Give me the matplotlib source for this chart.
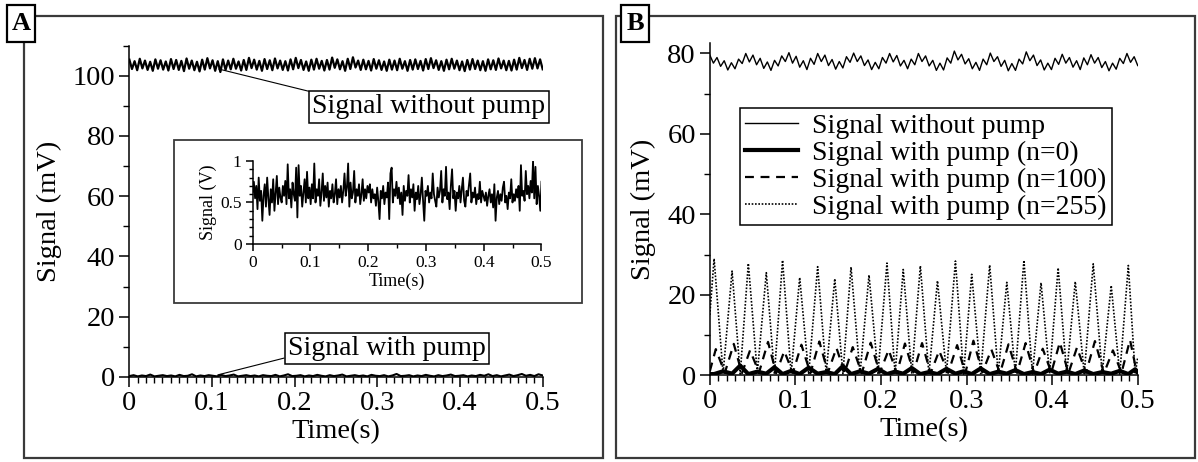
import matplotlib
matplotlib.use("Agg")
import matplotlib.pyplot as plt
import numpy as np
from matplotlib.patches import Rectangle
from matplotlib.ticker import MultipleLocator

plt.rcParams['font.family'] = ['Liberation Serif', 'DejaVu Serif']
plt.rcParams['mathtext.fontset'] = 'stix'

# ---------------- data ----------------
# panel A, signal without pump: alternating crests / dips (mV)
a_nopump_hi = [105.3, 104.8, 105.6, 105.0, 104.6, 105.4, 105.1, 104.7, 105.5, 105.2,
               104.9, 105.7, 105.0, 104.6, 105.3, 105.8, 105.1, 104.8, 105.4, 105.0,
               105.6, 104.7, 105.2, 105.9, 105.3, 104.9, 105.5, 105.1, 105.7, 105.0,
               104.8, 105.4, 105.9, 105.2, 104.7, 105.3, 105.6, 104.9, 105.2, 106.0,
               105.4, 104.8, 105.6, 106.1, 105.0, 105.3, 104.9, 105.5, 105.1, 104.7,
               105.3, 105.0, 105.6, 104.8, 105.2, 105.4, 104.9, 105.5, 105.8, 105.1,
               104.8, 105.3, 105.6, 105.0, 104.7, 105.2, 105.5, 105.0, 104.8, 105.4,
               105.1, 105.7, 105.0, 104.9, 105.3, 105.9, 105.2, 105.6, 105.8, 105.4]
a_nopump_lo = [102.2, 101.8, 102.4, 101.9, 101.6, 102.3, 102.0, 101.7, 102.2, 101.9,
               101.5, 102.3, 101.8, 101.4, 102.0, 102.4, 101.6, 101.2, 101.9, 102.1,
               102.3, 101.7, 101.9, 102.5, 102.0, 101.6, 102.2, 101.8, 102.4, 101.9,
               101.7, 102.1, 102.5, 101.9, 101.6, 102.0, 102.3, 101.7, 102.0, 102.6,
               102.1, 101.6, 102.2, 102.7, 101.9, 102.1, 101.7, 102.3, 101.9, 101.6,
               102.0, 101.8, 102.3, 101.6, 102.0, 102.2, 101.7, 102.2, 102.5, 101.9,
               101.6, 102.1, 102.3, 101.8, 101.5, 102.0, 102.2, 101.8, 101.6, 102.1,
               101.9, 102.4, 101.8, 101.7, 102.0, 102.5, 101.9, 102.3, 102.4, 102.1]
# panel A, signal with pump (mV)
a_pump = [0.3, 0.6, 0.2, 0.5, 0.3, 0.8, 0.2, 0.4, 0.6, 0.3, 0.5, 0.2, 0.7, 0.3, 0.4,
          0.9, 0.2, 0.5, 0.3, 0.6, 0.4, 0.2, 0.7, 0.3, 0.5, 0.8, 0.2, 0.4, 0.6, 0.3,
          0.5, 0.2, 0.6, 0.4, 0.3, 0.7, 0.2, 0.5, 0.9, 0.3, 0.4, 0.6, 0.2, 0.5, 0.3,
          0.7, 0.4, 0.2, 0.6, 0.3, 0.5, 0.8, 0.2, 0.4, 0.6, 0.3, 0.5, 0.2, 0.7, 0.4,
          0.3, 0.6, 0.2, 0.5, 1.0, 0.3, 0.4, 0.6, 0.2, 0.5, 0.3, 0.7, 0.4, 0.2, 0.6,
          0.3, 0.5, 0.8, 0.3, 0.4, 0.6, 0.2, 0.5, 0.3, 0.7, 0.4, 0.9, 0.3, 0.6, 0.2,
          0.5, 0.8, 0.3, 0.6, 1.0, 0.4, 0.7, 0.3, 0.9, 0.5]
# inset: signal with pump in volts
inset_v = [0.62, 0.75, 0.55, 0.70, 0.42, 0.80, 0.52, 0.64, 0.28, 0.58, 0.72, 0.45,
           0.80, 0.55, 0.35, 0.66, 0.50, 0.78, 0.40, 0.62, 0.82, 0.48, 0.68, 0.56,
           0.50, 0.70, 0.58, 0.76, 0.48, 0.96, 0.55, 0.66, 0.44, 0.74, 0.60, 0.52,
           0.92, 0.32, 0.95, 0.58, 0.70, 0.45, 0.62, 0.78, 0.50, 0.87, 0.55, 0.68,
           0.48, 0.72, 0.55, 0.97, 0.50, 0.66, 0.58, 0.78, 0.46, 0.62, 0.85, 0.52,
           0.70, 0.56, 0.74, 0.45, 0.64, 0.55, 0.72, 0.50, 0.60, 0.78, 0.48, 0.66,
           0.56, 0.70, 0.50, 0.64, 0.85, 0.58, 0.68, 0.97, 0.45, 0.74, 0.55, 0.62,
           0.88, 0.50, 0.66, 0.58, 0.72, 0.48, 0.60, 0.78, 0.52, 0.66, 0.55, 0.70,
           0.62, 0.72, 0.50, 0.66, 0.55, 0.60, 0.46, 0.68, 0.52, 0.30, 0.64, 0.55,
           0.70, 0.48, 0.62, 0.56, 0.74, 0.30, 0.85, 0.92, 0.50, 0.66, 0.58, 0.75,
           0.55, 0.68, 0.48, 0.62, 0.35, 0.70, 0.52, 0.64, 0.58, 0.83, 0.50, 0.66,
           0.56, 0.72, 0.40, 0.62, 0.54, 0.70, 0.48, 0.60, 0.80, 0.52, 0.28, 0.64,
           0.58, 0.70, 0.50, 0.62, 0.55, 0.85, 0.60, 0.52, 0.45, 0.68, 0.56, 0.64,
           0.88, 0.50, 0.66, 0.58, 0.93, 0.54, 0.62, 0.42, 0.70, 0.90, 0.55, 0.64,
           0.40, 0.62, 0.55, 0.70, 0.50, 0.66, 0.80, 0.52, 0.45, 0.64, 0.58, 0.72,
           0.85, 0.50, 0.62, 0.56, 0.68, 0.48, 0.60, 0.54, 0.75, 0.50, 0.64, 0.58,
           0.52, 0.62, 0.46, 0.58, 0.66, 0.50, 0.60, 0.44, 0.72, 0.28, 0.56, 0.64,
           0.48, 0.60, 0.52, 0.68, 0.75, 0.50, 0.58, 0.42, 0.62, 0.55, 0.78, 0.50,
           0.60, 0.52, 0.66, 0.56, 0.70, 0.40, 0.95, 0.58, 0.64, 0.52, 0.88, 0.60,
           0.70, 0.55, 0.76, 0.62, 1.00, 0.55, 0.93, 0.48, 0.70, 0.58, 0.40, 0.75]

# panel B, signal without pump: alternating crests / dips (mV)
b_nopump_hi = [79.6, 79.0, 78.2, 77.7, 78.6, 80.0, 79.6, 78.8, 77.9, 78.3,
               79.4, 80.2, 79.3, 78.2, 78.8, 80.0, 79.6, 78.5, 78.0, 79.2,
               80.1, 79.4, 78.4, 77.8, 79.0, 80.0, 79.5, 78.3, 78.6, 80.0,
               79.4, 78.3, 77.6, 78.9, 80.6, 79.8, 78.7, 77.8, 78.6, 80.1,
               79.2, 78.3, 77.5, 78.6, 80.4, 79.6, 78.4, 77.6, 78.8, 79.8,
               79.0, 78.2, 78.9, 79.7, 79.0, 78.0, 77.6, 78.8, 80.0, 79.2]
b_nopump_lo = [77.6, 76.8, 75.9, 76.2, 77.5, 77.9, 77.2, 76.3, 75.8, 76.9,
               78.0, 77.6, 76.6, 76.0, 77.3, 78.0, 77.0, 76.1, 76.4, 77.8,
               78.0, 77.0, 76.0, 76.2, 77.6, 77.9, 76.9, 76.2, 77.2, 78.0,
               76.9, 75.8, 75.9, 77.6, 78.4, 77.4, 76.2, 75.8, 77.2, 78.0,
               76.8, 75.7, 75.8, 77.4, 78.2, 77.0, 75.9, 76.0, 77.3, 77.6,
               76.6, 76.0, 77.2, 77.6, 76.5, 75.7, 76.1, 77.5, 77.8, 77.0]

# panel B, pumped signals: pulse crests and the dips between them
pulse_peak_t = [0.005, 0.026, 0.045, 0.066, 0.085, 0.105, 0.126, 0.146, 0.165, 0.186,
                0.207, 0.226, 0.246, 0.266, 0.287, 0.306, 0.327, 0.347, 0.367, 0.387,
                0.407, 0.427, 0.448, 0.469, 0.489]
pulse_dip_t = [0.0155, 0.0355, 0.0555, 0.0755, 0.095, 0.1155, 0.136, 0.1555, 0.1755,
               0.1965, 0.2165, 0.236, 0.256, 0.2765, 0.2965, 0.3165, 0.337, 0.357,
               0.377, 0.397, 0.417, 0.4375, 0.4585, 0.479, 0.497]
n255_peak = [29.0, 25.9, 27.8, 25.5, 28.6, 24.3, 27.0, 24.0, 26.9, 24.9, 27.9, 26.3, 27.2,
             23.5, 28.4, 25.1, 27.4, 23.1, 28.6, 23.0, 26.7, 23.3, 27.7, 22.3, 27.3]
n255_dip = [0.4, 0.3, 0.5, 0.3, 0.4, 0.3, 0.5, 0.4, 0.3, 0.5, 0.3, 0.4, 0.3,
            0.5, 0.3, 0.4, 0.3, 0.5, 0.3, 0.4, 0.3, 0.4, 0.5, 0.3, 0.3]
n255_start, n255_end = 15.0, 4.5
n100_peak = [6.5, 7.8, 6.2, 8.3, 6.0, 7.6, 8.4, 6.8, 7.0, 8.1, 6.3, 7.9, 8.0,
             6.1, 7.5, 8.6, 6.4, 7.7, 8.0, 6.6, 8.2, 6.9, 8.5, 6.2, 8.8]
n100_dip = [0.6, 0.5, 0.7, 0.5, 0.6, 0.5, 0.7, 0.6, 0.5, 0.6, 0.5, 0.7, 0.5,
            0.6, 0.5, 0.7, 0.5, 0.6, 0.5, 0.7, 0.5, 0.6, 0.5, 0.6, 0.5]
n0_peak = [0.3, 0.4, 0.3, 0.4, 0.3, 0.3, 0.4, 0.3, 0.3, 0.4, 0.3, 0.4, 0.3,
           0.3, 0.4, 0.3, 0.3, 0.4, 0.3, 0.3, 0.4, 0.3, 0.3, 0.4, 0.3]
n0_dip = [1.0, 2.4, 0.9, 2.0, 1.1, 1.9, 0.8, 2.3, 1.0, 1.6, 0.9, 1.8, 0.8,
          1.6, 1.0, 1.7, 0.9, 1.3, 0.8, 1.4, 0.9, 1.2, 0.8, 1.1, 1.5]

legend_labels = ['Signal without pump', 'Signal with pump (n=0)',
                 'Signal with pump (n=100)', 'Signal with pump (n=255)']


def zigzag(hi, lo):
    vals = np.empty(2 * len(hi))
    vals[0::2] = hi
    vals[1::2] = lo
    return np.linspace(0, 0.5, len(vals)), vals


def pulses(peaks, dips, start=None, end=None, shift=0.0):
    t = [0.0] if start is not None else []
    v = [start] if start is not None else []
    for tp, p, td, d in zip(pulse_peak_t, peaks, pulse_dip_t, dips):
        t += [tp + shift, td + shift]
        v += [p, d]
    if end is not None:
        t.append(0.5)
        v.append(end)
    return np.array(t), np.array(v)


fig = plt.figure(figsize=(11.98, 4.62), dpi=100)

# panel frames and letters
frame_col = '#3a3a3a'
for (x0, w) in [(0.0198, 0.4835), (0.5142, 0.4833)]:
    fig.add_artist(Rectangle((x0, 0.0093), w, 0.957, transform=fig.transFigure,
                             fill=False, ec=frame_col, lw=1.6, zorder=1))
for (x0, lab) in [(0.0058, 'A'), (0.5184, 'B')]:
    fig.add_artist(Rectangle((x0, 0.9097), 0.0236, 0.0794, transform=fig.transFigure,
                             fc='white', ec='black', lw=1.6, zorder=2))
    fig.text(x0 + 0.0118, 0.9494, lab, ha='center', va='center', fontsize=19,
             fontweight='bold', zorder=3)


def style_axes(ax, fs, major_len=7, minor_len=4):
    for s in ['top', 'right']:
        ax.spines[s].set_visible(False)
    for s in ['left', 'bottom']:
        ax.spines[s].set_linewidth(1.1)
    ax.tick_params(which='major', direction='out', length=major_len, width=1.1,
                   labelsize=fs, pad=3)
    ax.tick_params(which='minor', direction='out', length=minor_len, width=1.0)
    ax.patch.set_alpha(0)


# ---------------- panel A ----------------
ax_a = fig.add_axes([0.108, 0.184, 0.345, 0.7175])
t, v = zigzag(a_nopump_hi, a_nopump_lo)
ax_a.plot(t, v, color='black', lw=1.6)
ax_a.plot(np.linspace(0, 0.5, len(a_pump)), a_pump, color='black', lw=1.5)
ax_a.set_xlim(0, 0.5)
ax_a.set_ylim(0, 110)
ax_a.xaxis.set_major_locator(MultipleLocator(0.1))
ax_a.xaxis.set_minor_locator(MultipleLocator(0.01))
ax_a.yaxis.set_major_locator(MultipleLocator(20))
ax_a.yaxis.set_minor_locator(MultipleLocator(10))
ax_a.set_xticks([0, 0.1, 0.2, 0.3, 0.4, 0.5])
ax_a.set_xticklabels(['0', '0.1', '0.2', '0.3', '0.4', '0.5'])
style_axes(ax_a, 20.5)
ax_a.set_xlabel('Time(s)', fontsize=20.5, labelpad=2)
ax_a.set_ylabel('Signal (mV)', fontsize=20.5, labelpad=8)

ax_a.annotate('Signal without pump', xy=(0.108, 102.2), xytext=(0.3625, 89.6),
              ha='center', va='center', fontsize=20,
              bbox=dict(boxstyle='square,pad=0.12', fc='white', ec='black', lw=1.1),
              arrowprops=dict(arrowstyle='-', color='black', lw=0.8,
                              relpos=(0.04, 1.0), shrinkA=0, shrinkB=0))
ax_a.annotate('Signal with pump', xy=(0.107, 0.7), xytext=(0.3115, 9.5),
              ha='center', va='center', fontsize=20,
              bbox=dict(boxstyle='square,pad=0.12', fc='white', ec='black', lw=1.1),
              arrowprops=dict(arrowstyle='-', color='black', lw=0.8,
                              relpos=(0.0, 0.15), shrinkA=0, shrinkB=0))

# inset
fig.add_artist(Rectangle((0.1452, 0.3448), 0.3406, 0.3522, transform=fig.transFigure,
                         fc='white', ec=frame_col, lw=1.3, zorder=2))
ax_in = fig.add_axes([0.2109, 0.4719, 0.2411, 0.1796], zorder=3)
ax_in.plot(np.linspace(0, 0.5, len(inset_v)), inset_v, color='black', lw=1.3)
ax_in.set_xlim(0, 0.5)
ax_in.set_ylim(0, 1)
ax_in.set_xticks([0, 0.1, 0.2, 0.3, 0.4, 0.5])
ax_in.set_xticklabels(['0', '0.1', '0.2', '0.3', '0.4', '0.5'])
ax_in.xaxis.set_minor_locator(MultipleLocator(0.05))
ax_in.set_yticks([0, 0.5, 1])
ax_in.set_yticklabels(['0', '0.5', '1'])
ax_in.yaxis.set_minor_locator(MultipleLocator(0.1))
style_axes(ax_in, 12.5, major_len=5, minor_len=3)
ax_in.set_xlabel('Time(s)', fontsize=13, labelpad=1)
ax_in.set_ylabel('Signal (V)', fontsize=13, labelpad=2)

# ---------------- panel B ----------------
ax_b = fig.add_axes([0.5925, 0.1877, 0.3572, 0.7183])
t, v = zigzag(b_nopump_hi, b_nopump_lo)
ax_b.plot(t, v, color='black', lw=1.5, label=legend_labels[0])
t255, v255 = pulses(n255_peak, n255_dip, start=n255_start, end=n255_end)
t100, v100 = pulses(n100_peak, n100_dip, start=1.0, end=1.5, shift=0.002)
t0, v0 = pulses(n0_peak, n0_dip, start=0.3, end=0.8)
ax_b.plot(t0, v0, color='black', lw=3.0, label=legend_labels[1], zorder=4)
ax_b.plot(t100, v100, color='black', lw=1.6, ls=(0, (4, 3)), label=legend_labels[2])
ax_b.plot(t255, v255, color='black', lw=1.2, ls=(0, (1, 1)), label=legend_labels[3])
ax_b.set_xlim(0, 0.5)
ax_b.set_ylim(0, 82.5)
ax_b.set_xticks([0, 0.1, 0.2, 0.3, 0.4, 0.5])
ax_b.set_xticklabels(['0', '0.1', '0.2', '0.3', '0.4', '0.5'])
ax_b.xaxis.set_minor_locator(MultipleLocator(0.01))
ax_b.yaxis.set_major_locator(MultipleLocator(20))
ax_b.yaxis.set_minor_locator(MultipleLocator(10))
style_axes(ax_b, 20.5)
ax_b.set_xlabel('Time(s)', fontsize=20.5, labelpad=2)
ax_b.set_ylabel('Signal (mV)', fontsize=20.5, labelpad=8)

handles, labels = ax_b.get_legend_handles_labels()
handles[0].set_linewidth(1.0)
leg = ax_b.legend(handles, labels, loc='upper left', bbox_to_anchor=(0.6175, 0.7662),
                  bbox_transform=fig.transFigure, fontsize=20, frameon=True,
                  fancybox=False, edgecolor='black', framealpha=1,
                  handlelength=1.9, handletextpad=0.5, labelspacing=0.05,
                  borderpad=0.2, borderaxespad=0)
leg.get_frame().set_linewidth(1.1)

fig.savefig('out.png', dpi=100)
